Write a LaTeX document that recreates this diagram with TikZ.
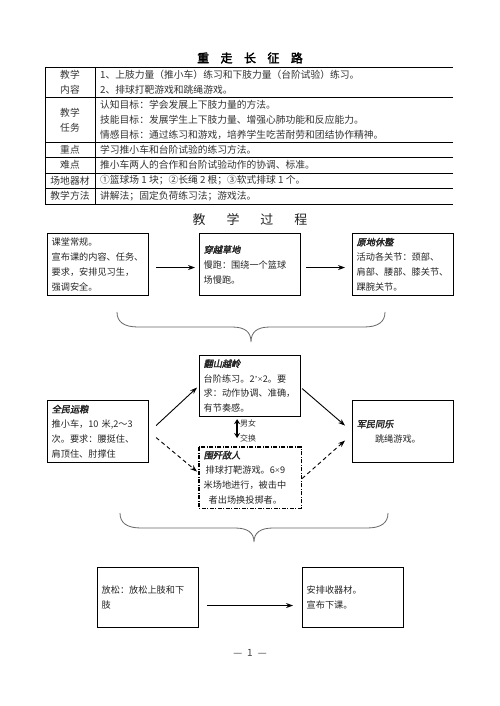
\documentclass[tikz,border=0pt]{standalone}
\usepackage{fontspec}
\setmainfont{Noto Sans CJK SC}
\newfontfamily\bitfont{Noto Sans CJK SC}[FakeSlant=0.2,FakeBold=2.5]
\newfontfamily\bdfont{Noto Sans CJK SC}[FakeBold=2.5]
\newfontfamily\latfont{Liberation Serif}
\usetikzlibrary{arrows.meta,calc}
\begin{document}
\begin{tikzpicture}[x=1bp,y=-1bp,
  tline/.style={line width=0.9bp,black},
  tl/.style={align=center,font=\fontsize{9.8}{15}\selectfont,text=black!80,inner sep=0pt},
  tr/.style={align=left,anchor=west,font=\fontsize{9.8}{15}\selectfont,text=black!80,inner sep=0pt},
  box/.style={draw,line width=1.1bp,minimum width=101bp,minimum height=62bp,text width=93pt,inner xsep=4bp,align=left,font=\fontsize{9.2}{15}\selectfont,text=black!85,anchor=north west},
  arr/.style={line width=0.9bp,-{Stealth[length=7bp,width=5bp]}},
  darr/.style={arr,dash pattern=on 4bp off 3bp},
  dbl/.style={line width=2.2bp,{Stealth[length=5bp,width=6bp]}-{Stealth[length=5bp,width=6bp]}},
  brace/.style={line width=0.8bp,black!60},
  small/.style={font=\fontsize{8}{10}\selectfont,text=black!80,inner sep=0pt,anchor=west}]
\useasboundingbox[fill=white] (0,0) rectangle (500,706);

% title
\node[font=\fontsize{12}{14}\bdfont] (title) at (250,58) {重\hspace{11.5pt}走\hspace{11.5pt}长\hspace{11.5pt}征\hspace{11.5pt}路};

% table
\draw[tline] (45,67) -- (453,67);
\draw[tline] (45,97) -- (453,97);
\draw[tline] (45,142) -- (453,142);
\draw[tline] (45,157) -- (453,157);
\draw[tline] (45,173) -- (453,173);
\draw[tline] (45,188) -- (453,188);
\draw[tline] (45,204) -- (453,204);
\draw[tline] (45,67) -- (45,204);
\draw[tline] (95,67) -- (95,204);

\node[tl] (l1) at (70,82) {教学\\内容};
\node[tl] (l2) at (70,120) {教学\\任务};
\node[tl] (l3) at (70,149.5) {重点};
\node[tl] (l4) at (70,165) {难点};
\node[tl] (l5) at (70,180.5) {场地器材};
\node[tl] (l6) at (70,196) {教学方法};

\node[tr] (r1) at (100,82) {1、上肢力量（推小车）练习和下肢力量（台阶试验）练习。\\2、排球打靶游戏和跳绳游戏。};
\node[tr] (r2) at (100,120) {认知目标：学会发展上下肢力量的方法。\\技能目标：发展学生上下肢力量、增强心肺功能和反应能力。\\情感目标：通过练习和游戏，培养学生吃苦耐劳和团结协作精神。};
\node[tr] (r3) at (100,149.5) {学习推小车和台阶试验的练习方法。};
\node[tr] (r4) at (100,165) {推小车两人的合作和台阶试验动作的协调、标准。};
\node[tr] (r5) at (100,180.5) {①篮球场 1 块；②长绳 2 根；③软式排球 1 个。};
\node[tr] (r6) at (100,196) {讲解法；固定负荷练习法；游戏法。};

% heading
\node[font=\fontsize{13}{15}\selectfont,text=black!85] (head) at (250,220) {教\hspace{21pt}学\hspace{21pt}过\hspace{21pt}程};

% boxes
\node[box] (A) at (47,233) {课堂常规。\\宣布课的内容、任务、\\要求，安排见习生，\\强调安全。};
\node[box] (B) at (199,233) {{\bitfont 穿越草地}\\慢跑：围绕一个篮球\\场慢跑。};
\node[box] (C) at (352,233) {{\bitfont 原地休整}\\活动各关节：颈部、\\肩部、腰部、膝关节、\\踝腕关节。};

\node[box,minimum height=61bp] (D) at (199,355) {{\bitfont 翻山越岭}\\台阶练习。2{\latfont ’×}2。要\\求：动作协调、准确，\\有节奏感。};
\node[box] (E) at (47,400) {{\bitfont 全民运粮}\\推小车，10 米,2～3\\次。要求：腰挺住、\\肩顶住、肘撑住};
\node[box] (F) at (352,400) {{\bitfont 军民同乐}\\\hspace*{2em}跳绳游戏。};
\node[box,minimum height=60bp,draw=none] (G) at (199,447) {{\bitfont 围歼敌人}\\\hspace*{2pt}排球打靶游戏。6{\latfont ×}9\\米场地进行，被击中\\\hspace*{5pt}者出场换投掷者。};
\draw[line width=1.1bp,dash pattern=on 4bp off 1.5bp on 1bp off 1.5bp] (G.north west) rectangle (G.south east);

\node[box,minimum height=60bp] (H) at (97,567) {放松：放松上肢和下\\肢};
\node[box,minimum height=60bp] (I) at (302,567) {安排收器材。\\宣布下课。};

% connectors
\draw[arr] ([xshift=7,yshift=-3]A.east) -- ([xshift=-4,yshift=-3]B.west);
\draw[arr] ([xshift=5,yshift=-3]B.east) -- ([xshift=-7,yshift=-3]C.west);
\draw[arr] ([xshift=7,yshift=6]E.east) -- ([xshift=-2,yshift=-1.5]D.west);
\draw[darr] ([xshift=7,yshift=-6]E.east) -- ([xshift=-2,yshift=6]G.west);
\draw[arr] ([xshift=1,yshift=-2.5]D.east) -- ([xshift=-7,yshift=6]F.west);
\draw[darr] ([xshift=1,yshift=-1]G.east) -- ([xshift=-7,yshift=-9]F.west);
\draw[dbl] ([xshift=-13,yshift=-2]D.south) -- ([xshift=-13,yshift=9]G.north);
\node[small] (mf) at (240,423) {男女};
\node[small] (jh) at (240,438) {交换};
\draw[arr] ([xshift=8,yshift=-8]H.east) -- ([xshift=-9,yshift=-8]I.west);

% braces
\draw[brace] (117,312) .. controls (117,322) and (124,327) .. (138,327) -- (232,327)
  .. controls (245,327) and (251,332) .. (251,342)
  .. controls (251,332) and (257,327) .. (270,327) -- (364,327)
  .. controls (378,327) and (385,322) .. (385,312);
\draw[brace] (120,513) .. controls (120,523) and (127,528) .. (141,528) -- (235,528)
  .. controls (248,528) and (254,533) .. (254,542)
  .. controls (254,533) and (260,528) .. (273,528) -- (367,528)
  .. controls (381,528) and (388,523) .. (388,513);

% page number
\node[font=\fontsize{10}{12}\selectfont,text=black!75] (pg) at (250,653) {—\hspace{5pt}1\hspace{5pt}—};
\end{tikzpicture}
\end{document}
